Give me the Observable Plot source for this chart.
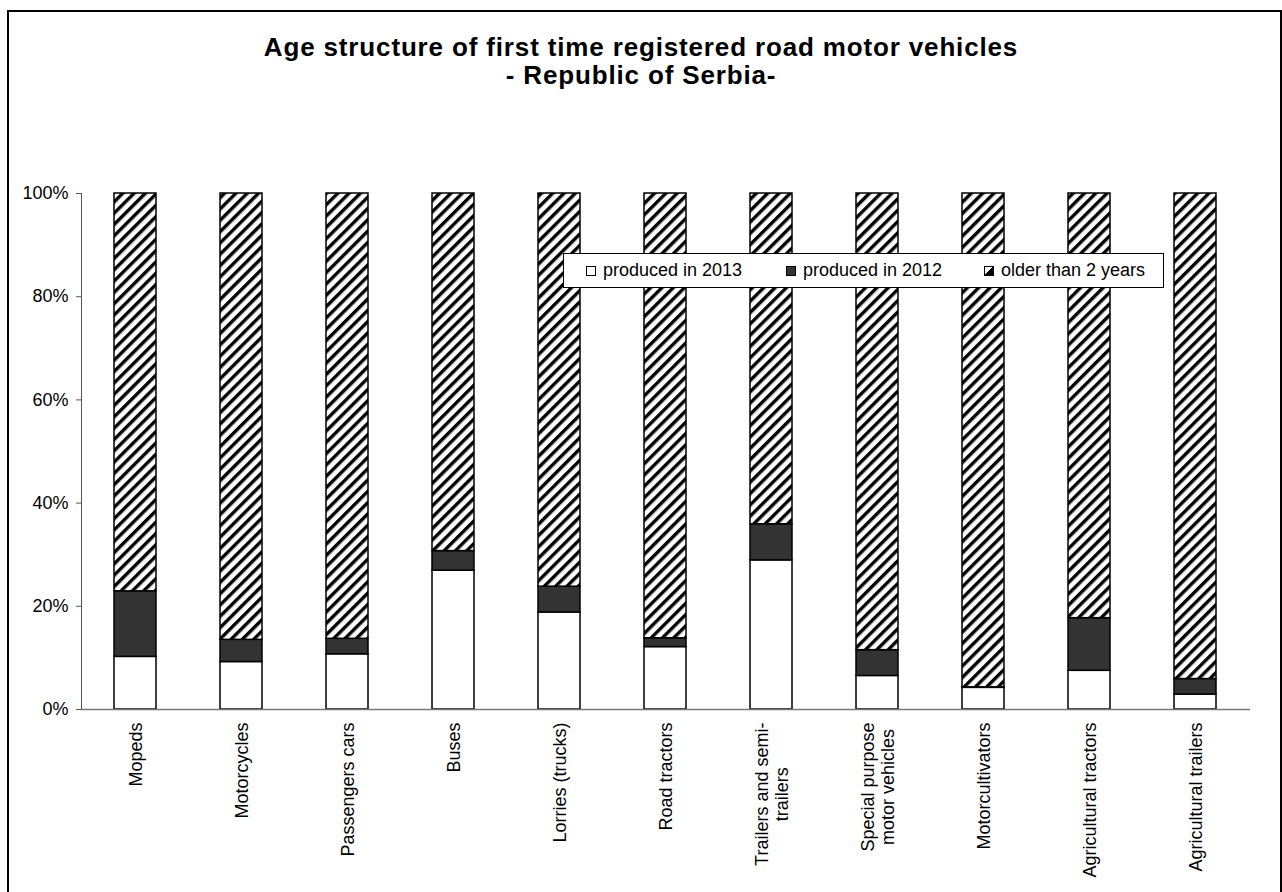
<!DOCTYPE html>
<html>
<head>
<meta charset="utf-8">
<script src="https://cdn.jsdelivr.net/npm/d3@7"></script>
<script src="https://cdn.jsdelivr.net/npm/@observablehq/plot@0.6"></script>
<style>
  html, body { margin: 0; padding: 0; background: #fff; }
  body { width: 1282px; height: 892px; position: relative; overflow: hidden; font-family: "Liberation Sans", Arial, sans-serif; }
  #frame { position: absolute; left: 7px; top: 10px; width: 1271px; height: 900px; border: 2px solid #000; pointer-events: none; }
  #title { position: absolute; left: 0; top: 0; width: 1282px; height: 110px; text-align: center; }
  #title div { position: absolute; left: 0; width: 1282px; font-weight: bold; font-size: 26px; line-height: 26px; letter-spacing: 0.85px; }
  #chart { position: absolute; left: 0; top: 110px; }
  #legend { position: absolute; left: 563px; top: 253px; width: 601px; height: 35px; background: #fff; border: 1px solid #000; box-sizing: border-box; font-size: 18px; }
  .item { display: flex; align-items: center; position: absolute; top: 0; height: 33px; }
  .sw { width: 10px; height: 10px; border: 1px solid #000; margin-right: 7px; box-sizing: border-box; }
</style>
</head>
<body>
<div id="title">
  <div style="top:34px">Age structure of first time registered road motor vehicles</div>
  <div style="top:62px">- Republic of Serbia-</div>
</div>
<div id="chart"></div>
<div id="legend"></div>
<div id="frame"></div>
<script>
const categories = ["Mopeds", "Motorcycles", "Passengers cars", "Buses", "Lorries (trucks)", "Road tractors",
  "Trailers and semi-trailers", "Special purpose motor vehicles", "Motorcultivators", "Agricultural tractors", "Agricultural trailers"];
const tickLabels = ["Mopeds", "Motorcycles", "Passengers cars", "Buses", "Lorries (trucks)", "Road tractors",
  "Trailers and semi-\ntrailers", "Special purpose\nmotor vehicles", "Motorcultivators", "Agricultural tractors", "Agricultural trailers"];
const seriesNames = ["produced in 2013", "produced in 2012", "older than 2 years"];
const produced2013 = [10.2, 9.2, 10.7, 26.9, 18.8, 12.1, 28.9, 6.5, 4.2, 7.5, 2.9];
const produced2012 = [12.7, 4.3, 3.0, 3.8, 5.0, 1.7, 7.0, 5.0, 0.1, 10.2, 3.0];
const olderThan2 = [77.1, 86.5, 86.3, 69.3, 76.2, 86.2, 64.1, 88.5, 95.7, 82.3, 94.1];
const yTicks = [0, 20, 40, 60, 80, 100];

const rows = [];
categories.forEach((c, i) => {
  rows.push({cat: c, series: seriesNames[0], value: produced2013[i]});
  rows.push({cat: c, series: seriesNames[1], value: produced2012[i]});
  rows.push({cat: c, series: seriesNames[2], value: olderThan2[i]});
});
const labelOf = new Map(categories.map((c, i) => [c, tickLabels[i]]));

const plot = Plot.plot({
  width: 1282,
  height: 782,
  marginLeft: 81,
  marginRight: 32,
  marginTop: 83,
  marginBottom: 183,
  style: {fontFamily: "Liberation Sans, Arial, sans-serif", fontSize: "18px", color: "#000", background: "transparent"},
  x: {domain: categories, paddingInner: 0.6, paddingOuter: 0.3, label: null},
  y: {domain: [0, 100], label: null},
  color: {type: "ordinal", domain: seriesNames, range: ["#ffffff", "#333333", "url(#hatch)"]},
  marks: [
    Plot.barY(rows, Plot.stackY({x: "cat", y: "value", fill: "series", order: seriesNames, stroke: "#000", strokeWidth: 1.5})),
    Plot.frame({anchor: "left", stroke: "#555"}),
    Plot.ruleY([0], {stroke: "#777", strokeWidth: 1.5}),
    Plot.axisY({ticks: yTicks, tickSize: 5, tickPadding: 8, tickFormat: d => d + "%", stroke: "#555", fontSize: 18, label: null}),
    Plot.axisX({tickSize: 0, tickPadding: 13, tickRotate: -90, tickFormat: d => labelOf.get(d), fontSize: 18, label: null, lineHeight: 1.1})
  ]
});

// hatch pattern definition
const svg = d3.select(plot);
const defs = svg.insert("defs", ":first-child");
const pat = defs.append("pattern").attr("id", "hatch").attr("patternUnits", "userSpaceOnUse")
  .attr("width", 8).attr("height", 8).attr("patternTransform", "rotate(45)");
pat.append("rect").attr("width", 8).attr("height", 8).attr("fill", "#fff");
pat.append("rect").attr("width", 3.4).attr("height", 8).attr("fill", "#000");
document.getElementById("chart").appendChild(plot);

// center multi-line rotated labels along their length
svg.selectAll('g[aria-label="x-axis tick label"] text').each(function() {
  const tspans = this.querySelectorAll("tspan");
  if (tspans.length > 1) {
    let maxLen = 0;
    tspans.forEach(t => { maxLen = Math.max(maxLen, t.getComputedTextLength()); });
    this.setAttribute("text-anchor", "middle");
    tspans.forEach(t => t.setAttribute("x", -maxLen / 2));
  }
});

// legend
const legend = document.getElementById("legend");
const swatchStyles = [
  "background:#fff",
  "background:#333",
  "background: linear-gradient(135deg, #fff 50%, #000 50%)"
];
const lefts = [22, 222, 420];
seriesNames.forEach((s, i) => {
  const it = document.createElement("div");
  it.className = "item";
  it.style.left = lefts[i] + "px";
  it.innerHTML = `<span class="sw" style="${swatchStyles[i]}"></span><span>${s}</span>`;
  legend.appendChild(it);
});
</script>
</body>
</html>
